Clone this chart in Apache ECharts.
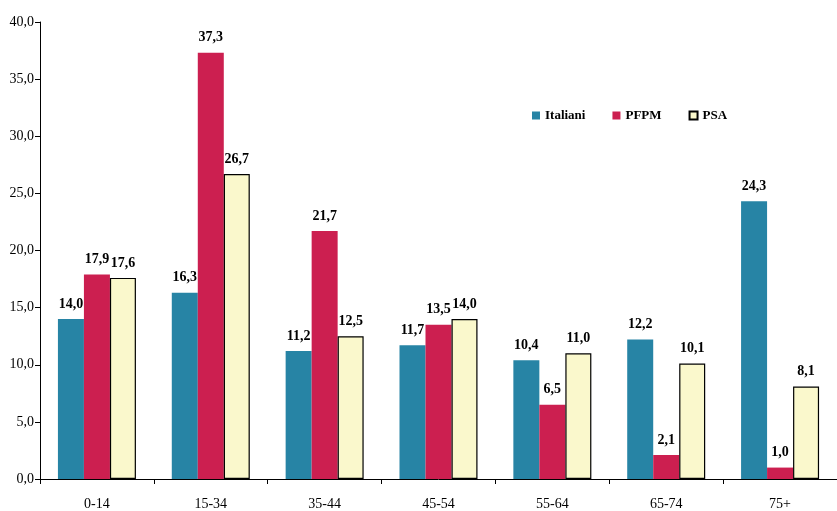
<!DOCTYPE html>
<html>
<head>
<meta charset="utf-8">
<script src="https://cdn.jsdelivr.net/npm/echarts@6/dist/echarts.min.js"></script>
<style>
  html, body { margin: 0; padding: 0; background: #fff; }
  #chart { width: 837px; height: 511px; }
</style>
</head>
<body>
<div id="chart"></div>
<script>
// classi di età
var categories = ['0-14', '15-34', '35-44', '45-54', '55-64', '65-74', '75+'];
var italiani = [14.0, 16.3, 11.2, 11.7, 10.4, 12.2, 24.3];
var pfpm = [17.9, 37.3, 21.7, 13.5, 6.5, 2.1, 1.0];
var psa = [17.6, 26.7, 12.5, 14.0, 11.0, 10.1, 8.1];

var font = 'Liberation Serif';
function virgola(v) { return v.toFixed(1).replace('.', ','); }

var myChart = echarts.init(document.getElementById('chart'));

var label = {
  show: true,
  position: 'top',
  distance: 8,
  color: '#000',
  fontFamily: font,
  fontWeight: 'bold',
  fontSize: 14,
  formatter: function (p) { return virgola(p.value); }
};

var option = {
  animation: false,
  textStyle: { fontFamily: font },
  legend: {
    left: 527,
    top: 104,
    itemWidth: 8,
    itemHeight: 8,
    itemGap: 27,
    icon: 'rect',
    textStyle: { fontFamily: font, fontWeight: 'bold', fontSize: 13, color: '#000' },
    data: ['Italiani', 'PFPM', 'PSA']
  },
  grid: { left: 40, right: -7, top: 22, bottom: 31 },
  xAxis: {
    type: 'category',
    data: categories,
    axisLine: { lineStyle: { color: '#000', width: 1 } },
    axisTick: { show: true, length: 5, inside: false, lineStyle: { color: '#000' } },
    axisLabel: { color: '#000', fontFamily: font, fontSize: 14, margin: 18 }
  },
  yAxis: {
    type: 'value',
    min: 0,
    max: 40,
    interval: 5,
    splitLine: { show: false },
    axisLine: { show: true, lineStyle: { color: '#000', width: 1 } },
    axisTick: { show: true, length: 5, lineStyle: { color: '#000' } },
    axisLabel: { color: '#000', fontFamily: font, fontSize: 14, margin: 6, formatter: virgola }
  },
  series: [
    {
      name: 'Italiani', type: 'bar', data: italiani, barWidth: 26, barGap: '0%',
      itemStyle: { color: '#2784A5' }, label: label
    },
    {
      name: 'PFPM', type: 'bar', data: pfpm, barWidth: 26, barGap: '0%',
      itemStyle: { color: '#CC1F50' }, label: label
    },
    {
      name: 'PSA', type: 'bar', data: psa, barWidth: 26, barGap: '0%',
      itemStyle: { color: '#FAF8CC', borderColor: '#000', borderWidth: 1.2 }, label: label
    }
  ]
};

myChart.setOption(option);
</script>
</body>
</html>
